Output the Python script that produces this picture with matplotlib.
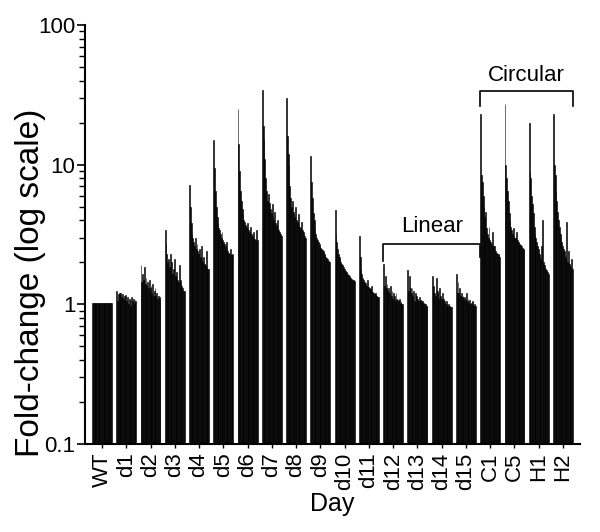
import matplotlib
matplotlib.use("Agg")
import matplotlib.pyplot as plt
from matplotlib.ticker import LogLocator, NullFormatter, FixedLocator, FixedFormatter
import numpy as np

plt.rcParams['font.family'] = ['Liberation Sans', 'DejaVu Sans']

groups = ["WT", "d1", "d2", "d3", "d4", "d5", "d6", "d7", "d8", "d9", "d10",
          "d11", "d12", "d13", "d14", "d15", "C1", "C5", "H1", "H2"]

wt  = [1.02] * 24
d1  = [1.25, 1.05, 1.18, 1.2, 1.15, 1.2, 1.12, 1.18, 1.1, 1.15, 1.08, 1.17, 1.05, 1.12, 1.0, 1.1, 1.08, 0.98, 1.12, 1.05, 1.1, 1.02, 1.08, 1.05]
d2  = [1.9, 1.45, 1.65, 1.5, 1.85, 1.4, 1.55, 1.35, 1.45, 1.3, 1.5, 1.3, 1.35, 1.2, 1.4, 1.15, 1.25, 1.3, 1.15, 1.2, 1.1, 1.15, 1.12, 1.1]
d3  = [3.4, 2.7, 2.3, 2.0, 2.1, 1.85, 2.3, 1.75, 2.0, 1.65, 1.8, 2.1, 1.6, 1.55, 1.7, 1.5, 1.45, 1.9, 1.5, 1.4, 1.35, 1.3, 1.25, 1.25]
d4  = [7.2, 5.0, 3.8, 3.2, 3.0, 2.8, 2.6, 3.0, 2.5, 2.7, 2.4, 2.3, 2.5, 2.2, 2.6, 2.1, 2.0, 2.2, 1.95, 1.9, 2.4, 1.85, 1.8, 1.8]
d5  = [15.0, 9.5, 6.5, 5.0, 4.2, 3.8, 3.5, 3.4, 3.2, 3.0, 3.3, 2.9, 2.8, 2.7, 2.6, 2.8, 2.5, 2.4, 2.35, 2.3, 2.5, 2.25, 2.2, 2.3]
d6  = [25.0, 14.0, 9.0, 6.5, 5.5, 4.8, 4.4, 4.0, 3.9, 3.7, 3.6, 3.8, 3.5, 3.4, 3.3, 3.6, 3.2, 3.1, 3.0, 3.3, 2.95, 2.9, 3.4, 2.9]
d7  = [34.0, 19.0, 15.0, 11.0, 8.0, 6.5, 5.5, 6.2, 5.0, 5.3, 4.8, 4.5, 5.2, 4.3, 4.0, 4.6, 3.8, 3.7, 4.0, 3.5, 3.4, 3.3, 3.2, 3.1]
d8  = [30.0, 16.0, 12.0, 10.0, 7.0, 5.8, 5.0, 5.5, 4.6, 4.4, 4.2, 5.0, 4.0, 3.9, 4.4, 3.7, 3.6, 3.5, 3.9, 3.4, 3.3, 3.2, 3.1, 3.0]
d9  = [11.5, 7.5, 5.8, 4.5, 4.0, 3.4, 3.2, 3.0, 2.9, 2.8, 2.7, 2.6, 2.55, 2.5, 2.45, 2.4, 2.3, 2.25, 2.2, 2.15, 2.1, 2.05, 2.0, 2.0]
d10 = [4.7, 3.2, 2.8, 2.5, 2.3, 2.2, 2.1, 2.0, 1.95, 1.9, 1.85, 1.8, 1.75, 1.72, 1.7, 1.65, 1.62, 1.6, 1.57, 1.55, 1.52, 1.5, 1.5, 1.48]
d11 = [3.1, 2.2, 1.8, 1.65, 1.55, 1.5, 1.45, 1.42, 1.38, 1.35, 1.5, 1.32, 1.3, 1.28, 1.25, 1.35, 1.22, 1.2, 1.18, 1.2, 1.17, 1.15, 1.13, 1.12]
d12 = [1.95, 1.35, 1.6, 1.3, 1.4, 1.25, 1.3, 1.2, 1.35, 1.15, 1.25, 1.1, 1.2, 1.15, 1.05, 1.2, 1.1, 1.08, 1.05, 1.1, 1.02, 1.05, 1.0, 1.0]
d13 = [1.75, 1.25, 1.6, 1.3, 1.2, 1.3, 1.15, 1.25, 1.05, 1.2, 1.15, 1.1, 1.1, 1.05, 1.12, 1.08, 1.05, 1.0, 1.05, 1.02, 1.0, 1.0, 0.98, 0.97]
d14 = [1.6, 1.25, 1.35, 1.2, 1.15, 1.55, 1.25, 1.2, 1.1, 1.3, 1.15, 1.1, 1.2, 1.05, 1.1, 1.05, 1.0, 1.05, 1.0, 0.98, 1.0, 0.97, 0.95, 0.95]
d15 = [1.65, 1.2, 1.45, 1.2, 1.3, 1.15, 1.2, 1.12, 1.15, 1.1, 1.12, 1.08, 1.2, 1.05, 1.1, 1.03, 1.08, 1.0, 1.02, 1.05, 1.0, 0.98, 1.0, 0.98]
c1  = [23.0, 8.5, 7.5, 6.0, 5.0, 4.2, 4.6, 3.5, 3.2, 3.0, 3.6, 2.9, 2.8, 2.7, 3.3, 2.6, 2.5, 2.6, 2.4, 2.35, 2.3, 2.3, 2.25, 2.2]
c5  = [27.0, 10.0, 8.0, 6.5, 5.5, 4.5, 4.0, 3.6, 3.4, 3.2, 3.5, 3.1, 3.0, 3.0, 3.3, 2.9, 2.8, 2.75, 2.7, 2.65, 2.6, 2.55, 2.5, 2.5]
h1  = [20.0, 9.0, 8.0, 6.0, 5.2, 4.5, 3.6, 3.2, 3.0, 2.8, 2.6, 2.5, 2.3, 2.2, 2.1, 2.6, 4.0, 2.0, 1.9, 1.85, 1.8, 1.75, 1.7, 1.65]
h2  = [23.0, 10.0, 8.5, 6.5, 5.5, 4.6, 4.0, 3.6, 3.2, 3.0, 2.8, 2.6, 2.5, 2.4, 2.2, 2.1, 3.9, 2.0, 2.4, 1.95, 1.9, 1.85, 2.1, 1.8]

series = [wt, d1, d2, d3, d4, d5, d6, d7, d8, d9, d10, d11, d12, d13, d14, d15, c1, c5, h1, h2]

fig = plt.figure(figsize=(6.0, 5.32), dpi=100)
ax = fig.add_axes([85/600, 1-444/532, (580-85)/600, (444-25)/532])

base = 0.1
gw = 0.82
for g, vals in enumerate(series):
    v = np.asarray(vals, dtype=float)
    n = len(v)
    w = gw / n
    xs = g - gw/2 + w * (np.arange(n) + 0.5)
    ax.bar(xs, v - base, width=w, bottom=base, color='black',
           edgecolor='black', linewidth=0.4)

ax.set_yscale('log')
ax.set_ylim(0.1, 100)
ax.set_xlim(-0.7, 19.7)

ax.spines['top'].set_visible(False)
ax.spines['right'].set_visible(False)
ax.spines['left'].set_linewidth(1.5)
ax.spines['bottom'].set_linewidth(1.5)

ax.yaxis.set_major_locator(FixedLocator([0.1, 1, 10, 100]))
ax.yaxis.set_major_formatter(FixedFormatter(["0.1", "1", "10", "100"]))
ax.yaxis.set_minor_locator(LogLocator(base=10, subs=np.arange(2, 10)))
ax.yaxis.set_minor_formatter(NullFormatter())
ax.tick_params(axis='y', which='major', direction='out', length=6, width=1.2, labelsize=16, pad=1)
ax.tick_params(axis='y', which='minor', direction='out', length=4, width=1.0)

ax.set_xticks(range(len(groups)))
ax.set_xticklabels(groups, rotation=90, fontsize=16)
ax.tick_params(axis='x', direction='out', length=3, width=1.0, pad=3)

ax.set_xlabel("Day", fontsize=18, labelpad=2)
ax.set_ylabel("Fold-change (log scale)", fontsize=24)
ax.yaxis.set_label_coords(-0.078, 0.385)

# Brackets
lx0, lx1 = 12 - gw/2, 16 - gw/2
ax.plot([lx0, lx0, lx1, lx1], [2.05, 2.71, 2.71, 2.2], color='black', lw=1.2, clip_on=False)
ax.text((lx0 + lx1) / 2, 3.05, "Linear", ha='center', va='bottom', fontsize=16)

cx0, cx1 = 16 - gw/2, 19 + gw/2
ax.plot([cx0, cx0, cx1, cx1], [26.3, 33.6, 33.6, 26.3], color='black', lw=1.2, clip_on=False)
ax.text((cx0 + cx1) / 2, 36.5, "Circular", ha='center', va='bottom', fontsize=16)

fig.savefig("out.png", dpi=100)
